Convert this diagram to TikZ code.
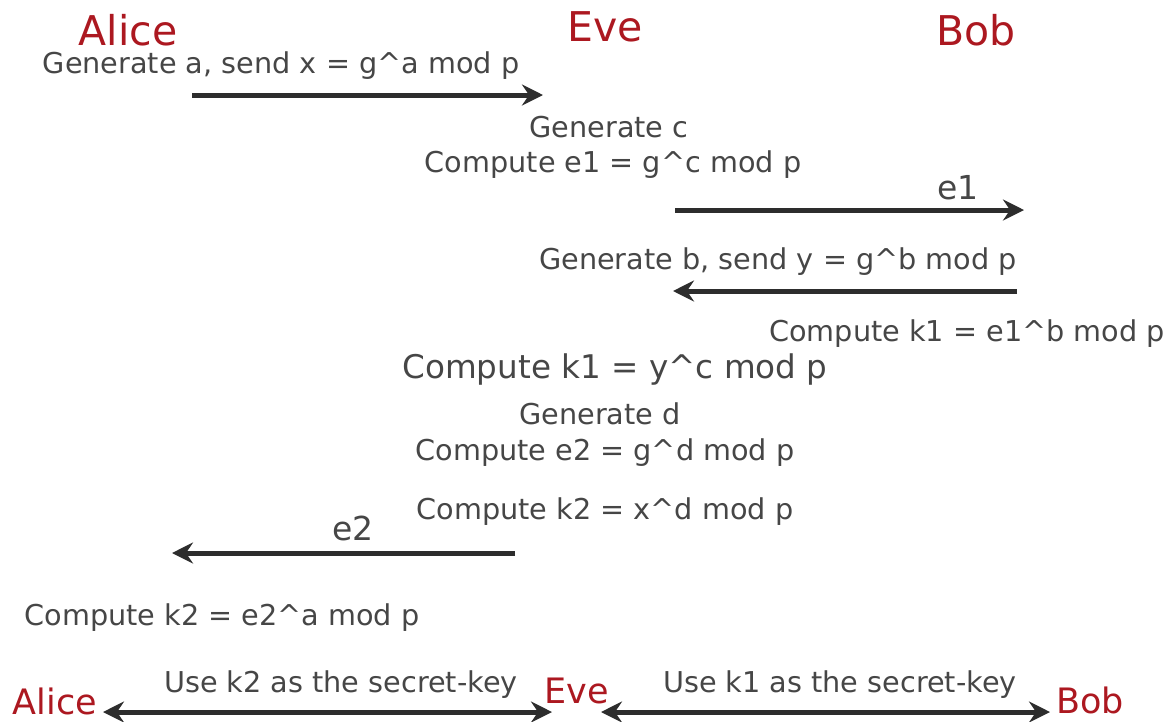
\documentclass[tikz,border=0pt]{standalone}
\usepackage{fontspec}
\setmainfont{DejaVu Sans}
\usetikzlibrary{arrows.meta, positioning}
\definecolor{partyred}{RGB}{172,24,32}
\definecolor{msggray}{RGB}{70,70,70}
\definecolor{wiregray}{RGB}{45,45,45}

\begin{document}
\begin{tikzpicture}[x=1pt, y=-1pt, >={Stealth[length=21pt, width=21pt, inset=7pt]},
    party/.style={text=partyred, font=\fontsize{41}{41}\selectfont, anchor=base, inner sep=0pt},
    smallparty/.style={party, font=\fontsize{35}{35}\selectfont},
    msg/.style={text=msggray, font=\fontsize{28.7}{30}\selectfont, anchor=base, inner sep=0pt},
    bigmsg/.style={msg, font=\fontsize{32.6}{34}\selectfont},
    key/.style={text=msggray, font=\fontsize{33}{34}\selectfont, anchor=base, inner sep=0pt},
    wire/.style={draw=wiregray, line width=5pt}]
    \useasboundingbox (0,0) rectangle (1169,721);

    % the three parties
    \node[party] (alice) at (128,45) {Alice};
    \node[party] (eve)   at (605,41) {Eve};
    \node[party] (bob)   at (976,45) {Bob};

    % Alice -> Eve
    \node[msg] (genA) at (281,73) {Generate a, send x = g\^{}a mod p};
    \coordinate (a1) at (192,95);
    \coordinate (e1in) at (543,95);
    \draw[wire, ->] (a1) -- (e1in);

    % Eve -> Bob
    \node[msg] (genC) at (609,137) {Generate c};
    \node[msg] (compE1) at (613,172) {Compute e1 = g\^{}c mod p};
    \coordinate (e1out) at (675,210);
    \coordinate (b1in) at (1024,210);
    \draw[wire, ->] (e1out) -- (b1in);
    \node[key] (keyE1) at (958,199) {e1};

    % Bob -> Eve
    \node[msg] (genB) at (778,269) {Generate b, send y = g\^{}b mod p};
    \coordinate (b2) at (1017,291);
    \coordinate (e2in) at (673,291);
    \draw[wire, ->] (b2) -- (e2in);
    \node[msg] (compK1b) at (967,341) {Compute k1 = e1\^{}b mod p};

    % Eve works out k1, then e2 and k2
    \node[bigmsg] (compK1e) at (615,378) {Compute k1 = y\^{}c mod p};
    \node[msg] (genD) at (600,424) {Generate d};
    \node[msg] (compE2) at (605,460) {Compute e2 = g\^{}d mod p};
    \node[msg] (compK2e) at (605,519) {Compute k2 = x\^{}d mod p};

    % Eve -> Alice
    \coordinate (e2out) at (515,553);
    \coordinate (a2in) at (172,553);
    \draw[wire, ->] (e2out) -- (a2in);
    \node[key] (keyE2) at (353,540) {e2};
    \node[msg] (compK2a) at (222,625) {Compute k2 = e2\^{}a mod p};

    % shared keys
    \node[smallparty] (alice2) at (55,714) {Alice};
    \node[smallparty] (eve2)   at (577,703) {Eve};
    \node[smallparty] (bob2)   at (1090,713) {Bob};
    \node[msg] (useK2) at (341,692) {Use k2 as the secret-key};
    \node[msg] (useK1) at (840,692) {Use k1 as the secret-key};
    \coordinate (l1) at (103,712);
    \coordinate (r1) at (552,712);
    \coordinate (l2) at (601,712);
    \coordinate (r2) at (1050,712);
    \draw[wire, <->] (l1) -- (r1);
    \draw[wire, <->] (l2) -- (r2);
\end{tikzpicture}
\end{document}
